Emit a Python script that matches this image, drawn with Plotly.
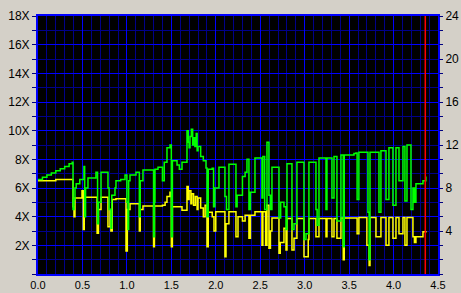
import plotly.graph_objects as go

# ---- data (x position, speed in X) ----
green_x = [0.000, 0.05, 0.10, 0.15, 0.20, 0.25, 0.30, 0.35, 0.385, 0.394, 0.405, 0.416, 0.43, 0.47,
           0.517, 0.525, 0.535, 0.562, 0.60, 0.652, 0.67, 0.68, 0.709, 0.787, 0.80, 0.821, 0.83, 0.866,
           0.877, 0.93, 0.979, 1.00, 1.012, 1.02, 1.035, 1.102, 1.14, 1.15, 1.181, 1.294, 1.30, 1.31,
           1.316, 1.350, 1.40, 1.420, 1.451, 1.485, 1.500, 1.512, 1.564, 1.590, 1.620, 1.676, 1.69,
           1.70, 1.71, 1.725, 1.74, 1.75, 1.765, 1.78, 1.79, 1.80, 1.83, 1.86, 1.89, 1.901, 1.915,
           1.96, 1.975, 1.99, 2.036, 2.103, 2.12, 2.148, 2.227, 2.24, 2.261, 2.30, 2.33, 2.351, 2.373,
           2.39, 2.441, 2.520, 2.53, 2.55, 2.576, 2.598, 2.615, 2.632, 2.711, 2.73, 2.767, 2.79, 2.801,
           2.857, 2.88, 2.913, 2.992, 3.015, 3.048, 3.127, 3.14, 3.161, 3.240, 3.251, 3.307, 3.330,
           3.363, 3.408, 3.434, 3.445, 3.555, 3.577, 3.590, 3.610, 3.712, 3.725, 3.735, 3.802, 3.836,
           3.858, 3.915, 3.948, 3.993, 4.027, 4.061, 4.106, 4.128, 4.151, 4.196, 4.218, 4.235, 4.252,
           4.331, 4.364]
green_y = [6.6, 6.75, 6.9, 7.05, 7.2, 7.35, 7.5, 7.7, 7.8, 4.5, 5.2, 6.0, 6.3, 6.6,
           7.5, 4.0, 6.0, 6.7, 6.7, 7.1, 3.5, 5.0, 7.1, 6.0, 4.5, 3.2, 5.5, 6.0,
           6.5, 6.6, 6.9, 5.0, 3.1, 6.5, 6.9, 7.1, 4.0, 6.5, 7.25, 7.25, 2.6, 5.0,
           7.3, 7.45, 6.5, 7.8, 8.8, 9.0, 2.6, 7.9, 7.6, 7.3, 7.8, 10.0, 9.2,
           8.8, 9.6, 10.1, 9.0, 9.5, 8.9, 9.8, 8.6, 8.9, 8.2, 7.9, 7.4, 4.0, 7.3,
           7.37, 4.7, 6.0, 7.45, 5.4, 4.5, 7.65, 4.7, 5.5, 5.5, 6.8, 7.1, 8.0, 4.5,
           5.7, 8.1, 5.3, 8.2, 4.5, 9.2, 5.5, 4.5, 7.45, 3.9, 5.0, 4.7, 3.1, 7.7,
           3.1, 3.5, 7.8, 2.4, 2.8, 7.8, 4.5, 3.4, 8.1, 4.5, 8.1, 5.3, 8.2,
           3.7, 8.3, 1.9, 8.3, 8.4, 8.45, 5.2, 8.5, 4.3, 1.0, 8.5, 8.5, 4.3,
           8.6, 5.2, 8.8, 4.8, 8.8, 6.5, 8.9, 5.1, 9.0, 4.5, 6.0, 5.0, 6.3,
           6.5, 6.8]

yellow_x = [0.000, 0.20, 0.385, 0.394, 0.405, 0.416, 0.47, 0.495, 0.51, 0.52, 0.64, 0.665, 0.68,
            0.709, 0.787, 0.81, 0.82, 0.835, 0.877, 0.99, 1.005, 1.035, 1.12, 1.14, 1.15, 1.181,
            1.30, 1.31, 1.40, 1.43, 1.451, 1.485, 1.50, 1.512, 1.620, 1.676, 1.69, 1.70, 1.72,
            1.73, 1.75, 1.77, 1.79, 1.80, 1.83, 1.86, 1.88, 1.901, 1.915, 1.96, 1.98, 2.00, 2.103,
            2.115, 2.148, 2.227, 2.25, 2.30, 2.33, 2.373, 2.39, 2.441, 2.520, 2.53, 2.56, 2.576,
            2.598, 2.615, 2.632, 2.711, 2.725, 2.767, 2.79, 2.801, 2.857, 2.880, 2.913, 2.992,
            3.040, 3.048, 3.127, 3.161, 3.240, 3.251, 3.307, 3.330, 3.363, 3.408, 3.434, 3.445,
            3.555, 3.590, 3.610, 3.700, 3.725, 3.735, 3.802, 3.858, 3.915, 3.948, 3.993, 4.027,
            4.061, 4.106, 4.128, 4.151, 4.218, 4.235, 4.252, 4.331, 4.364]
yellow_y = [6.5, 6.6, 6.6, 4.7, 4.0, 5.3, 5.3, 5.8, 3.1, 5.35, 5.35, 2.85, 4.5,
            5.35, 3.3, 4.5, 3.0, 5.2, 5.25, 1.6, 4.5, 4.9, 4.9, 3.0, 4.5, 4.75,
            1.9, 4.75, 4.8, 5.0, 5.4, 5.7, 1.9, 4.7, 4.45, 6.1, 5.2, 5.8, 4.9,
            5.6, 4.8, 5.4, 4.5, 5.3, 4.6, 4.0, 4.8, 1.9, 4.3, 4.0, 3.0, 4.35, 1.2,
            3.5, 4.35, 2.6, 4.0, 3.7, 4.1, 2.5, 4.1, 4.35, 2.0, 4.35, 2.0, 4.8,
            1.8, 3.0, 3.9, 1.45, 2.2, 3.2, 1.67, 3.88, 1.67, 2.5, 3.88, 1.2,
            2.4, 3.88, 2.6, 3.88, 2.6, 3.88, 2.6, 3.88, 2.5, 3.9, 1.0, 3.9,
            3.9, 2.8, 3.95, 2.0, 0.6, 3.95, 2.6, 3.95, 2.0, 3.95, 2.5, 3.95,
            2.8, 3.95, 2.0, 3.95, 2.6, 2.2, 2.6, 2.95, 3.0]

x_ticks = [0.0, 0.5, 1.0, 1.5, 2.0, 2.5, 3.0, 3.5, 4.0, 4.5]
left_ticks = [2, 4, 6, 8, 10, 12, 14, 16, 18]
left_labels = ["2X", "4X", "6X", "8X", "10X", "12X", "14X", "16X", "18X"]
right_ticks = [4, 8, 12, 16, 20, 24]
right_labels = ["4", "8", "12", "16", "20", "24"]
marker_pos = 4.357

fig = go.Figure()
fig.add_trace(go.Scatter(x=yellow_x, y=yellow_y, mode="lines", line=dict(color="#FFFF00", width=1.5, shape="hv"),
                         showlegend=False, hoverinfo="skip"))
fig.add_trace(go.Scatter(x=green_x, y=green_y, mode="lines", line=dict(color="#00FF00", width=1.5, shape="hv"),
                         showlegend=False, hoverinfo="skip"))
fig.add_trace(go.Scatter(x=[0], y=[0], yaxis="y2", mode="lines", line=dict(width=0),
                         showlegend=False, hoverinfo="skip", opacity=0))

fig.add_shape(type="line", x0=marker_pos, x1=marker_pos, y0=0, y1=18, xref="x", yref="y",
              line=dict(color="#FF0000", width=1.5), layer="above")

font = dict(family="Liberation Sans, Arial, sans-serif", size=12, color="#000000")
fig.update_layout(
    width=461, height=293,
    margin=dict(l=38, r=23, t=16, b=19, autoexpand=False),
    paper_bgcolor="#D4D0C8", plot_bgcolor="#000000",
    font=font,
    xaxis=dict(range=[0, 4.5], tickvals=x_ticks, ticktext=[f"{v:.1f}" for v in x_ticks],
               tickfont=dict(size=11),
               showgrid=True, gridcolor="#0000FF", gridwidth=1,
               minor=dict(dtick=0.1, tick0=0, showgrid=True, gridcolor="#00008A", gridwidth=1),
               showline=True, linecolor="#0000FF", linewidth=2, mirror=True,
               zeroline=False, ticks="", fixedrange=True, automargin=False, ticklabelstandoff=0),
    yaxis=dict(range=[0, 18], tickvals=left_ticks, ticktext=left_labels,
               showgrid=True, gridcolor="#0000FF", gridwidth=1,
               minor=dict(dtick=1, tick0=0, showgrid=True, gridcolor="#00008A", gridwidth=1,
                          ticks="outside", ticklen=4, tickcolor="#000080"),
               ticks="outside", ticklen=4, tickcolor="#000080",
               showline=True, linecolor="#0000FF", linewidth=2, mirror=True,
               zeroline=False, fixedrange=True, automargin=False),
    yaxis2=dict(range=[0, 24], overlaying="y", side="right", tickvals=right_ticks, ticktext=right_labels,
                showgrid=False, zeroline=False, ticks="outside", ticklen=4, tickcolor="#000080",
                minor=dict(dtick=4/3, tick0=0, ticks="outside", ticklen=4, tickcolor="#000080"),
                showline=False, fixedrange=True, automargin=False),
)

fig.write_html("out.html")
